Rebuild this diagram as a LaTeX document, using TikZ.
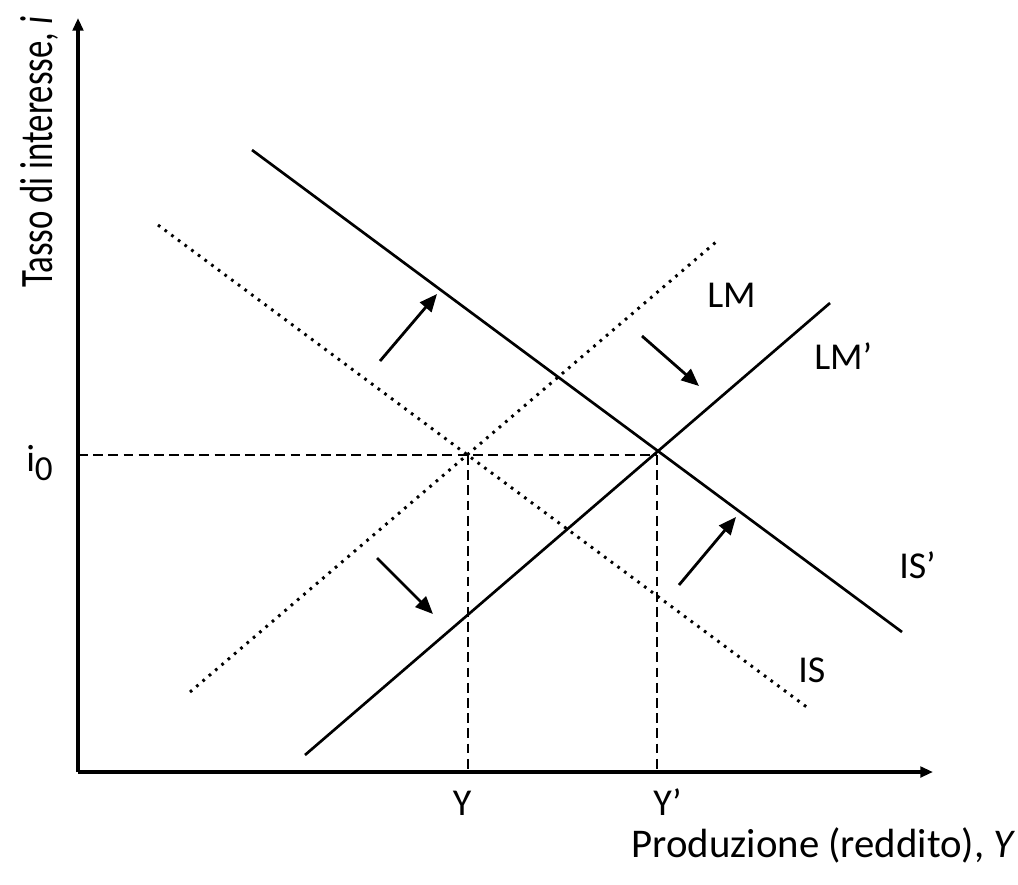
\documentclass[tikz,border=0pt]{standalone}
\usepackage{fontspec}
\setmainfont{Carlito}
\usepackage{tikz}
\usetikzlibrary{arrows.meta}

\begin{document}
\begin{tikzpicture}[
  x=0.025cm, y=-0.025cm,
  axis/.style={line width=2.3pt, -{Triangle[length=9pt, width=7.5pt]}},
  curve/.style={line width=1.9pt},
  dotcurve/.style={line width=2.1pt, dash pattern=on 1.9pt off 4pt},
  guide/.style={line width=1.8pt, dash pattern=on 7pt off 3.8pt},
  movearr/.style={line width=2pt, -{Triangle[length=12.5pt, width=10.5pt]}},
  lbl/.style={font=\fontsize{27}{32}\selectfont, inner sep=0pt}
]
  \useasboundingbox (0,0) rectangle (1018,884);

  \coordinate (O) at (78,772);
  \coordinate (ytop) at (78,18);
  \coordinate (xend) at (933,772);
  \coordinate (E0) at (468,455);
  \coordinate (E1) at (657,455);
  \coordinate (i0) at (78,455);
  \coordinate (Y0) at (468,772);
  \coordinate (Y1) at (657,772);

  \coordinate (ISa) at (158,225);   \coordinate (ISb) at (808,708);
  \coordinate (IS1a) at (252,150);  \coordinate (IS1b) at (902,632);
  \coordinate (LMa) at (190,692);   \coordinate (LMb) at (716,242);
  \coordinate (LM1a) at (305,755);  \coordinate (LM1b) at (830,303);

  \draw[guide] (i0) -- (E1);
  \draw[guide] (E0) -- (Y0);
  \draw[guide] (E1) -- (Y1);

  \draw[dotcurve] (ISa) -- (ISb);
  \draw[dotcurve] (LMa) -- (LMb);
  \draw[curve] (IS1a) -- (IS1b);
  \draw[curve] (LM1a) -- (LM1b);

  \draw[axis] (O) -- (ytop);
  \draw[axis] (O) -- (xend);

  \coordinate (a1s) at (380,361);  \coordinate (a1e) at (437,294);
  \coordinate (a2s) at (642,336);  \coordinate (a2e) at (699,386);
  \coordinate (a3s) at (377,558);  \coordinate (a3e) at (433,614);
  \coordinate (a4s) at (679,585);  \coordinate (a4e) at (736,517);
  \draw[movearr] (a1s) -- (a1e);
  \draw[movearr] (a2s) -- (a2e);
  \draw[movearr] (a3s) -- (a3e);
  \draw[movearr] (a4s) -- (a4e);

  \node[lbl, anchor=base west] (lm) at (707,307) {LM};
  \node[lbl, anchor=base west] (lm1) at (814,369) {LM’};
  \node[lbl, anchor=base west] (is1) at (899,578) {IS’};
  \node[lbl, anchor=base west] (is) at (798,682) {IS};
  \node[lbl, anchor=base] (ylab) at (462,815) {Y};
  \node[lbl, anchor=base west] (y1lab) at (653,815) {Y’};
  \node[lbl, anchor=base west] (ilab) at (26,471)
    {i\raisebox{-7pt}{\fontsize{25}{30}\selectfont 0}};
  \node[lbl, anchor=base east, font=\fontsize{29}{34}\selectfont] (xlab) at (1016,857)
    {Produzione (reddito), \textit{Y}};
  \node[lbl, anchor=base west, rotate=90] (ylabel) at (52,288)
    {\scalebox{0.75}[1]{\fontsize{33}{38}\selectfont Tasso di interesse, \textit{i}}};
\end{tikzpicture}
\end{document}
